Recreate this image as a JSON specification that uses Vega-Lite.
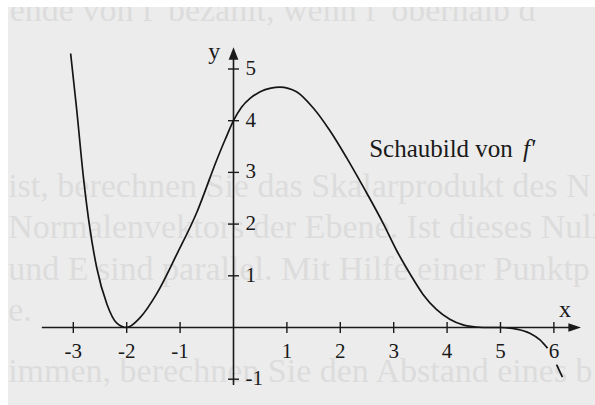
{
  "$schema": "https://vega.github.io/schema/vega-lite/v6.json",
  "width": 587,
  "height": 398,
  "padding": {"left": 8, "top": 7, "right": 0, "bottom": 0},
  "autosize": {"type": "none"},
  "background": "#ffffff",
  "config": {
    "view": {"fill": "#ececec", "stroke": null},
    "text": {"font": "Liberation Serif"}
  },
  "datasets": {
    "backdrop": [
      {"x": -4.19, "y": 6.12, "line": "ende von f' bezahlt, wenn f' oberhalb d"},
      {"x": -4.22, "y": 2.72, "line": "ist, berechnen Sie das Skalarprodukt des N"},
      {"x": -4.22, "y": 1.93, "line": "Normalenvektors der Ebene. Ist dieses Null"},
      {"x": -4.22, "y": 1.11, "line": "und E sind parallel. Mit Hilfe einer Punktp"},
      {"x": -4.22, "y": 0.32, "line": "e."},
      {"x": -4.22, "y": -0.86, "line": "immen, berechnen Sie den Abstand eines b"}
    ],
    "axislines": [
      {"x": -3.59, "y": 0, "x2": 6.4, "y2": 0},
      {"x": 0, "y": -1.11, "x2": 0, "y2": 5.2}
    ],
    "arrows": [
      {"x": 6.39, "y": 0, "dir": "right"},
      {"x": 0, "y": 5.3, "dir": "up"}
    ],
    "xticks": [
      {"x": -3, "y": 0, "label": "-3"},
      {"x": -2, "y": 0, "label": "-2"},
      {"x": -1, "y": 0, "label": "-1"},
      {"x": 1, "y": 0, "label": "1"},
      {"x": 2, "y": 0, "label": "2"},
      {"x": 3, "y": 0, "label": "3"},
      {"x": 4, "y": 0, "label": "4"},
      {"x": 5, "y": 0, "label": "5"},
      {"x": 6, "y": 0, "label": "6"}
    ],
    "yticks": [
      {"x": 0, "y": -1, "label": "-1"},
      {"x": 0, "y": 1, "label": "1"},
      {"x": 0, "y": 2, "label": "2"},
      {"x": 0, "y": 3, "label": "3"},
      {"x": 0, "y": 4, "label": "4"},
      {"x": 0, "y": 5, "label": "5"}
    ],
    "curve": [
      {"seg": "a", "x": -3.05, "y": 5.3},
      {"seg": "a", "x": -2.94, "y": 4.25},
      {"seg": "a", "x": -2.81, "y": 2.9},
      {"seg": "a", "x": -2.69, "y": 1.92},
      {"seg": "a", "x": -2.56, "y": 1.15},
      {"seg": "a", "x": -2.37, "y": 0.45},
      {"seg": "a", "x": -2.19, "y": 0.09},
      {"seg": "a", "x": -2.0, "y": 0.0},
      {"seg": "a", "x": -1.75, "y": 0.19},
      {"seg": "a", "x": -1.44, "y": 0.65},
      {"seg": "a", "x": -1.06, "y": 1.42},
      {"seg": "a", "x": -0.69, "y": 2.22},
      {"seg": "a", "x": -0.31, "y": 3.25},
      {"seg": "a", "x": -0.15, "y": 3.65},
      {"seg": "a", "x": 0.0, "y": 4.0},
      {"seg": "a", "x": 0.15, "y": 4.26},
      {"seg": "a", "x": 0.31, "y": 4.43},
      {"seg": "a", "x": 0.5, "y": 4.56},
      {"seg": "a", "x": 0.7, "y": 4.63},
      {"seg": "a", "x": 0.87, "y": 4.65},
      {"seg": "a", "x": 1.18, "y": 4.56},
      {"seg": "a", "x": 1.49, "y": 4.25},
      {"seg": "a", "x": 1.81, "y": 3.8},
      {"seg": "a", "x": 2.12, "y": 3.28},
      {"seg": "a", "x": 2.43, "y": 2.72},
      {"seg": "a", "x": 2.56, "y": 2.48},
      {"seg": "a", "x": 2.81, "y": 2.0},
      {"seg": "a", "x": 3.06, "y": 1.48},
      {"seg": "a", "x": 3.31, "y": 1.03},
      {"seg": "a", "x": 3.55, "y": 0.64},
      {"seg": "a", "x": 3.8, "y": 0.35},
      {"seg": "a", "x": 4.05, "y": 0.16},
      {"seg": "a", "x": 4.3, "y": 0.05},
      {"seg": "a", "x": 4.55, "y": 0.01},
      {"seg": "a", "x": 4.8, "y": 0.0},
      {"seg": "a", "x": 5.0, "y": 0.0},
      {"seg": "a", "x": 5.3, "y": -0.03},
      {"seg": "a", "x": 5.55, "y": -0.11},
      {"seg": "a", "x": 5.74, "y": -0.24},
      {"seg": "a", "x": 5.88, "y": -0.4},
      {"seg": "b", "x": 6.05, "y": -0.72},
      {"seg": "b", "x": 6.16, "y": -0.96}
    ],
    "names": [
      {"x": 6.21, "y": 0.21, "name": "x"},
      {"x": -0.36, "y": 5.2, "name": "y"}
    ],
    "caption": [
      {"x": 2.54, "y": 3.3, "word": "Schaubild von"}
    ],
    "fname": [
      {"x": 5.42, "y": 3.3, "word": "f'"}
    ]
  },
  "encoding": {
    "x": {"field": "x", "type": "quantitative", "scale": {"domain": [-4.223, 6.77], "nice": false, "zero": false}, "axis": null},
    "y": {"field": "y", "type": "quantitative", "scale": {"domain": [-1.499, 6.199], "nice": false, "zero": false}, "axis": null}
  },
  "layer": [
    {
      "data": {"name": "backdrop"},
      "mark": {"type": "text", "align": "left", "baseline": "middle", "fontSize": 34, "color": "#dcdcdc", "clip": true},
      "encoding": {"text": {"field": "line"}}
    },
    {
      "data": {"name": "axislines"},
      "mark": {"type": "rule", "color": "#1a1a1a", "strokeWidth": 1.6},
      "encoding": {
        "x2": {"field": "x2"},
        "y2": {"field": "y2"}
      }
    },
    {
      "data": {"name": "arrows"},
      "mark": {"type": "point", "filled": true, "opacity": 1, "color": "#1a1a1a", "size": 160},
      "encoding": {
        "shape": {"field": "dir", "type": "nominal", "legend": null,
          "scale": {"domain": ["right", "up"], "range": ["M-1,-0.67L1,0L-1,0.67Z", "M-0.77,1L0,-1L0.77,1Z"]}}
      }
    },
    {
      "data": {"name": "xticks"},
      "mark": {"type": "tick", "orient": "vertical", "size": 11, "thickness": 1.4, "color": "#1a1a1a", "opacity": 1}
    },
    {
      "data": {"name": "xticks"},
      "mark": {"type": "text", "fontSize": 21, "dy": 25, "baseline": "middle", "align": "center", "color": "#1a1a1a"},
      "encoding": {"text": {"field": "label"}}
    },
    {
      "data": {"name": "yticks"},
      "mark": {"type": "tick", "orient": "horizontal", "size": 11, "thickness": 1.4, "color": "#1a1a1a", "opacity": 1}
    },
    {
      "data": {"name": "yticks"},
      "mark": {"type": "text", "fontSize": 21, "dx": 12, "baseline": "middle", "align": "left", "color": "#1a1a1a"},
      "encoding": {"text": {"field": "label"}}
    },
    {
      "data": {"name": "curve"},
      "mark": {"type": "line", "color": "#151515", "strokeWidth": 1.7, "interpolate": "monotone"},
      "encoding": {"detail": {"field": "seg"}}
    },
    {
      "data": {"name": "names"},
      "mark": {"type": "text", "fontSize": 24, "align": "center", "baseline": "alphabetic", "color": "#1a1a1a"},
      "encoding": {"text": {"field": "name"}}
    },
    {
      "data": {"name": "caption"},
      "mark": {"type": "text", "fontSize": 25, "align": "left", "baseline": "alphabetic", "color": "#1a1a1a"},
      "encoding": {"text": {"field": "word"}}
    },
    {
      "data": {"name": "fname"},
      "mark": {"type": "text", "fontSize": 25, "fontStyle": "italic", "align": "left", "baseline": "alphabetic", "color": "#1a1a1a"},
      "encoding": {"text": {"field": "word"}}
    }
  ]
}
